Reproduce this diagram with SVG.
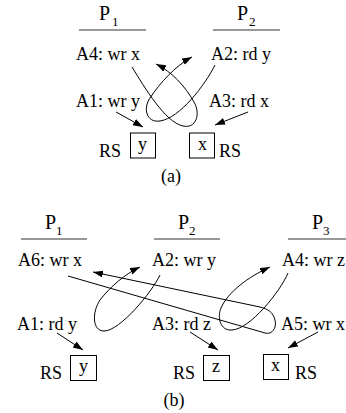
<svg xmlns="http://www.w3.org/2000/svg" width="346" height="413" viewBox="0 0 346 413">
<style>
text{font-family:"Liberation Serif","Times New Roman",serif;fill:#000}
.op{font-size:18px}
.p{font-size:20px}
.sub{font-size:13px}
.hl{stroke:#777;stroke-width:1.5}
.box{fill:#fff;stroke:#000;stroke-width:1}
.c{fill:none;stroke:#000;stroke-width:1}
</style>
<defs>
<marker id="ah" markerUnits="userSpaceOnUse" markerWidth="12" markerHeight="8" refX="10" refY="3.5" orient="auto">
<path d="M0,0 L10,3.5 L0,7 Z" fill="#000"/>
</marker>
</defs>
<rect width="346" height="413" fill="#fff"/>

<!-- (a) -->
<g id="a-P1"><text class="p" x="99" y="20">P</text><text class="sub" x="112" y="26">1</text><line class="hl" x1="79" y1="30" x2="146" y2="30"/></g>
<g id="a-P2"><text class="p" x="237" y="20">P</text><text class="sub" x="249" y="26">2</text><line class="hl" x1="213" y1="30" x2="280" y2="30"/></g>
<g id="a-A4"><text class="op" x="76" y="60">A4: wr x</text></g>
<g id="a-A2"><text class="op" x="211" y="60">A2: rd y</text></g>
<g id="a-A1"><text class="op" x="76" y="107">A1: wr y</text></g>
<g id="a-A3"><text class="op" x="209" y="107">A3: rd x</text></g>
<g id="a-RSy"><text class="op" x="99" y="157">RS</text><rect class="box" x="130.5" y="133" width="25" height="25"/><text class="op" x="138" y="150">y</text></g>
<g id="a-RSx"><text class="op" x="219" y="157">RS</text><rect class="box" x="189.5" y="133" width="25" height="25"/><text class="op" x="198" y="150">x</text></g>
<text class="op" x="171" y="182" text-anchor="middle">(a)</text>

<!-- (b) -->
<g id="b-P1"><text class="p" x="45" y="229">P</text><text class="sub" x="56" y="235">1</text><line class="hl" x1="21" y1="239" x2="87" y2="239"/></g>
<g id="b-P2"><text class="p" x="178" y="229">P</text><text class="sub" x="189" y="235">2</text><line class="hl" x1="154" y1="239" x2="220" y2="239"/></g>
<g id="b-P3"><text class="p" x="312" y="229">P</text><text class="sub" x="323" y="235">3</text><line class="hl" x1="288" y1="239" x2="346" y2="239"/></g>
<g id="b-A6"><text class="op" x="18" y="266">A6: wr x</text></g>
<g id="b-A2"><text class="op" x="152" y="266">A2: wr y</text></g>
<g id="b-A4"><text class="op" x="282" y="266">A4: wr z</text></g>
<g id="b-A1"><text class="op" x="17" y="330">A1: rd y</text></g>
<g id="b-A3"><text class="op" x="152" y="330">A3: rd z</text></g>
<g id="b-A5"><text class="op" x="281" y="330">A5: wr x</text></g>
<g id="b-RSy"><text class="op" x="40" y="379">RS</text><rect class="box" x="70.5" y="355.5" width="26" height="25"/><text class="op" x="79" y="372">y</text></g>
<g id="b-RSz"><text class="op" x="173" y="379">RS</text><rect class="box" x="203.5" y="355.5" width="26" height="25"/><text class="op" x="212" y="372">z</text></g>
<g id="b-RSx"><text class="op" x="295" y="379">RS</text><rect class="box" x="263.5" y="354.5" width="25" height="25"/><text class="op" x="271" y="371">x</text></g>
<text class="op" x="174" y="406" text-anchor="middle">(b)</text>

<g id="connectors">
<!-- (a) -->
<path class="c" marker-end="url(#ah)" d="M116,112 L143,127"/>
<path class="c" marker-end="url(#ah)" d="M248,112 L215,125"/>
<path class="c" marker-end="url(#ah)" d="M132,67 C145,88 165,122 183,126 C196,129 201,114 194,102 C185,86 172,72 156,64"/>
<path class="c" marker-end="url(#ah)" d="M215,65 C205,85 180,118 160,121 C146,123 143,108 150,98 C160,83 175,66 192,57"/>
<!-- (b) -->
<path class="c" marker-end="url(#ah)" d="M57,333 L83,350"/>
<path class="c" marker-end="url(#ah)" d="M190,332 L218,350"/>
<path class="c" marker-end="url(#ah)" d="M318,332 L288,348"/>
<path class="c" marker-end="url(#ah)" d="M68,276 L265,333 C272,335 277,328 275,320 C273,312 268,309 260,307 L93,272"/>
<path class="c" marker-end="url(#ah)" d="M160,275 C152,292 120,331 104,331 C92,331 92,312 100,300 C110,287 125,274 140,267"/>
<path class="c" marker-end="url(#ah)" d="M288,273 C280,292 250,329 232,330 C220,331 217,317 221,308 C228,292 248,277 270,267"/>
</g>
</svg>
